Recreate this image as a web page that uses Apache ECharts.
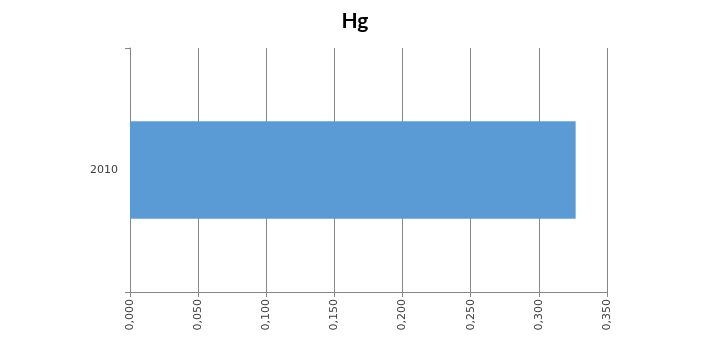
<!DOCTYPE html>
<html><head><meta charset="utf-8">
<script src="https://cdn.jsdelivr.net/npm/echarts@6/dist/echarts.min.js"></script>
<style>html,body{margin:0;padding:0;background:#fff}#c{width:710px;height:350px}</style>
</head><body><div id="c"></div>
<script>
const categories = ['2010'];
const values = [0.327];
const xTicks = [0, 0.05, 0.1, 0.15, 0.2, 0.25, 0.3, 0.35];

const chart = echarts.init(document.getElementById('c'), null, {renderer: 'canvas'});
chart.setOption({
  animation: false,
  backgroundColor: '#ffffff',
  title: {
    text: 'Hg', left: 'center', top: 6,
    textStyle: {fontFamily: 'Lato', fontWeight: 'bold', fontSize: 21, color: '#000'}
  },
  grid: {left: 130, right: 103, top: 48, bottom: 58, containLabel: false},
  xAxis: {
    type: 'value', min: 0, max: 0.35, interval: 0.05,
    axisLine: {show: true, lineStyle: {color: '#868686'}},
    axisTick: {show: true, length: 5, lineStyle: {color: '#868686'}},
    splitLine: {show: true, lineStyle: {color: '#868686', width: 1}},
    axisLabel: {
      rotate: 90, margin: 7, fontSize: 11, color: '#404040', fontFamily: 'DejaVu Sans',
      formatter: v => v.toFixed(3).replace('.', ',')
    }
  },
  yAxis: {
    type: 'category', data: categories,
    axisLine: {show: true, lineStyle: {color: '#868686'}},
    axisTick: {show: true, length: 5, lineStyle: {color: '#868686'}},
    axisLabel: {fontSize: 11, color: '#404040', margin: 12, fontFamily: 'DejaVu Sans'}
  },
  series: [{
    type: 'bar', data: values, barWidth: '40%',
    itemStyle: {color: '#5B9BD5'}
  }]
});
</script></body></html>
